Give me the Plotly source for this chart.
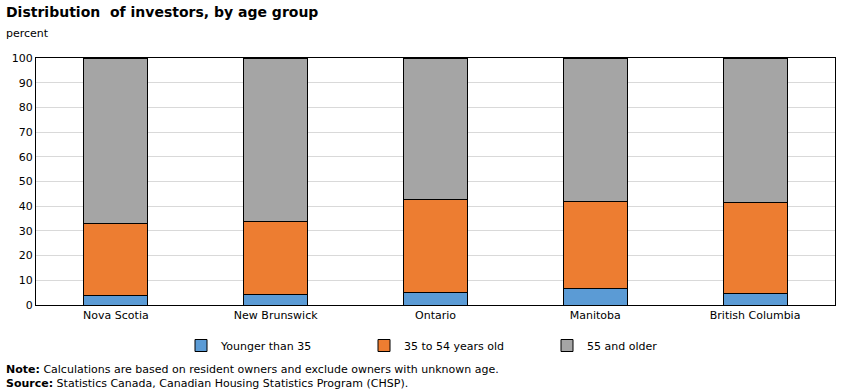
import plotly.graph_objects as go

categories = ["Nova Scotia", "New Brunswick", "Ontario", "Manitoba", "British Columbia"]
younger_35 = [3.9, 4.3, 5.1, 6.7, 4.7]
age_35_54 = [29.1, 29.5, 37.6, 35.2, 36.8]
age_55_older = [67.0, 66.2, 57.3, 58.1, 58.5]
y_ticks = list(range(0, 101, 10))

series = [
    ("Younger than 35", younger_35, "#5B9BD5"),
    ("35 to 54 years old", age_35_54, "#ED7D31"),
    ("55 and older", age_55_older, "#A5A5A5"),
]

fig = go.Figure()
for name, vals, color in series:
    fig.add_trace(go.Bar(
        x=categories, y=vals, name=name,
        marker=dict(color=color, line=dict(color="#000000", width=1)),
        width=0.4,
    ))

W, H = 841, 391
l, r, t, b = 36, 6, 58, 86
pw, ph = W - l - r, H - t - b

def px_x(x):
    return (x - l) / pw

def px_y(y):
    return (H - b - y) / ph

font_family = "Verdana, DejaVu Sans, sans-serif"
fig.update_layout(
    barmode="stack",
    width=W, height=H,
    margin=dict(l=l, r=r, t=t, b=b, autoexpand=False),
    paper_bgcolor="white", plot_bgcolor="white",
    font=dict(family=font_family, size=11, color="#000000"),
    showlegend=True,
    legend=dict(
        orientation="h", x=px_x(181), xanchor="left", y=px_y(331), yanchor="top",
        font=dict(size=11),
        entrywidth=138, entrywidthmode="pixels",
        itemwidth=30, traceorder="normal",
    ),
    xaxis=dict(
        showline=True, linecolor="#000000", linewidth=1, mirror=True,
        ticks="", tickfont=dict(size=11),
    ),
    yaxis=dict(
        range=[0, 100], tickvals=y_ticks,
        showgrid=True, gridcolor="#D9D9D9", gridwidth=1,
        showline=True, linecolor="#000000", linewidth=1, mirror=True,
        ticks="", tickfont=dict(size=11), zeroline=False,
    ),
    annotations=[
        dict(text="<b>Distribution  of investors, by age group</b>", x=px_x(4), y=px_y(12),
             xref="paper", yref="paper", xanchor="left", yanchor="middle",
             showarrow=False, font=dict(size=14)),
        dict(text="percent", x=px_x(4), y=px_y(34), xref="paper", yref="paper",
             xanchor="left", yanchor="middle", showarrow=False, font=dict(size=11)),
        dict(text="<b>Note:</b> Calculations are based on resident owners and exclude owners with unknown age.",
             x=px_x(4), y=px_y(369), xref="paper", yref="paper",
             xanchor="left", yanchor="middle", showarrow=False, font=dict(size=11)),
        dict(text="<b>Source:</b> Statistics Canada, Canadian Housing Statistics Program (CHSP).",
             x=px_x(4), y=px_y(383), xref="paper", yref="paper",
             xanchor="left", yanchor="middle", showarrow=False, font=dict(size=11)),
    ],
)
fig.write_html("out.html", config={"displayModeBar": False},
               post_script="document.body.style.margin='0';")
